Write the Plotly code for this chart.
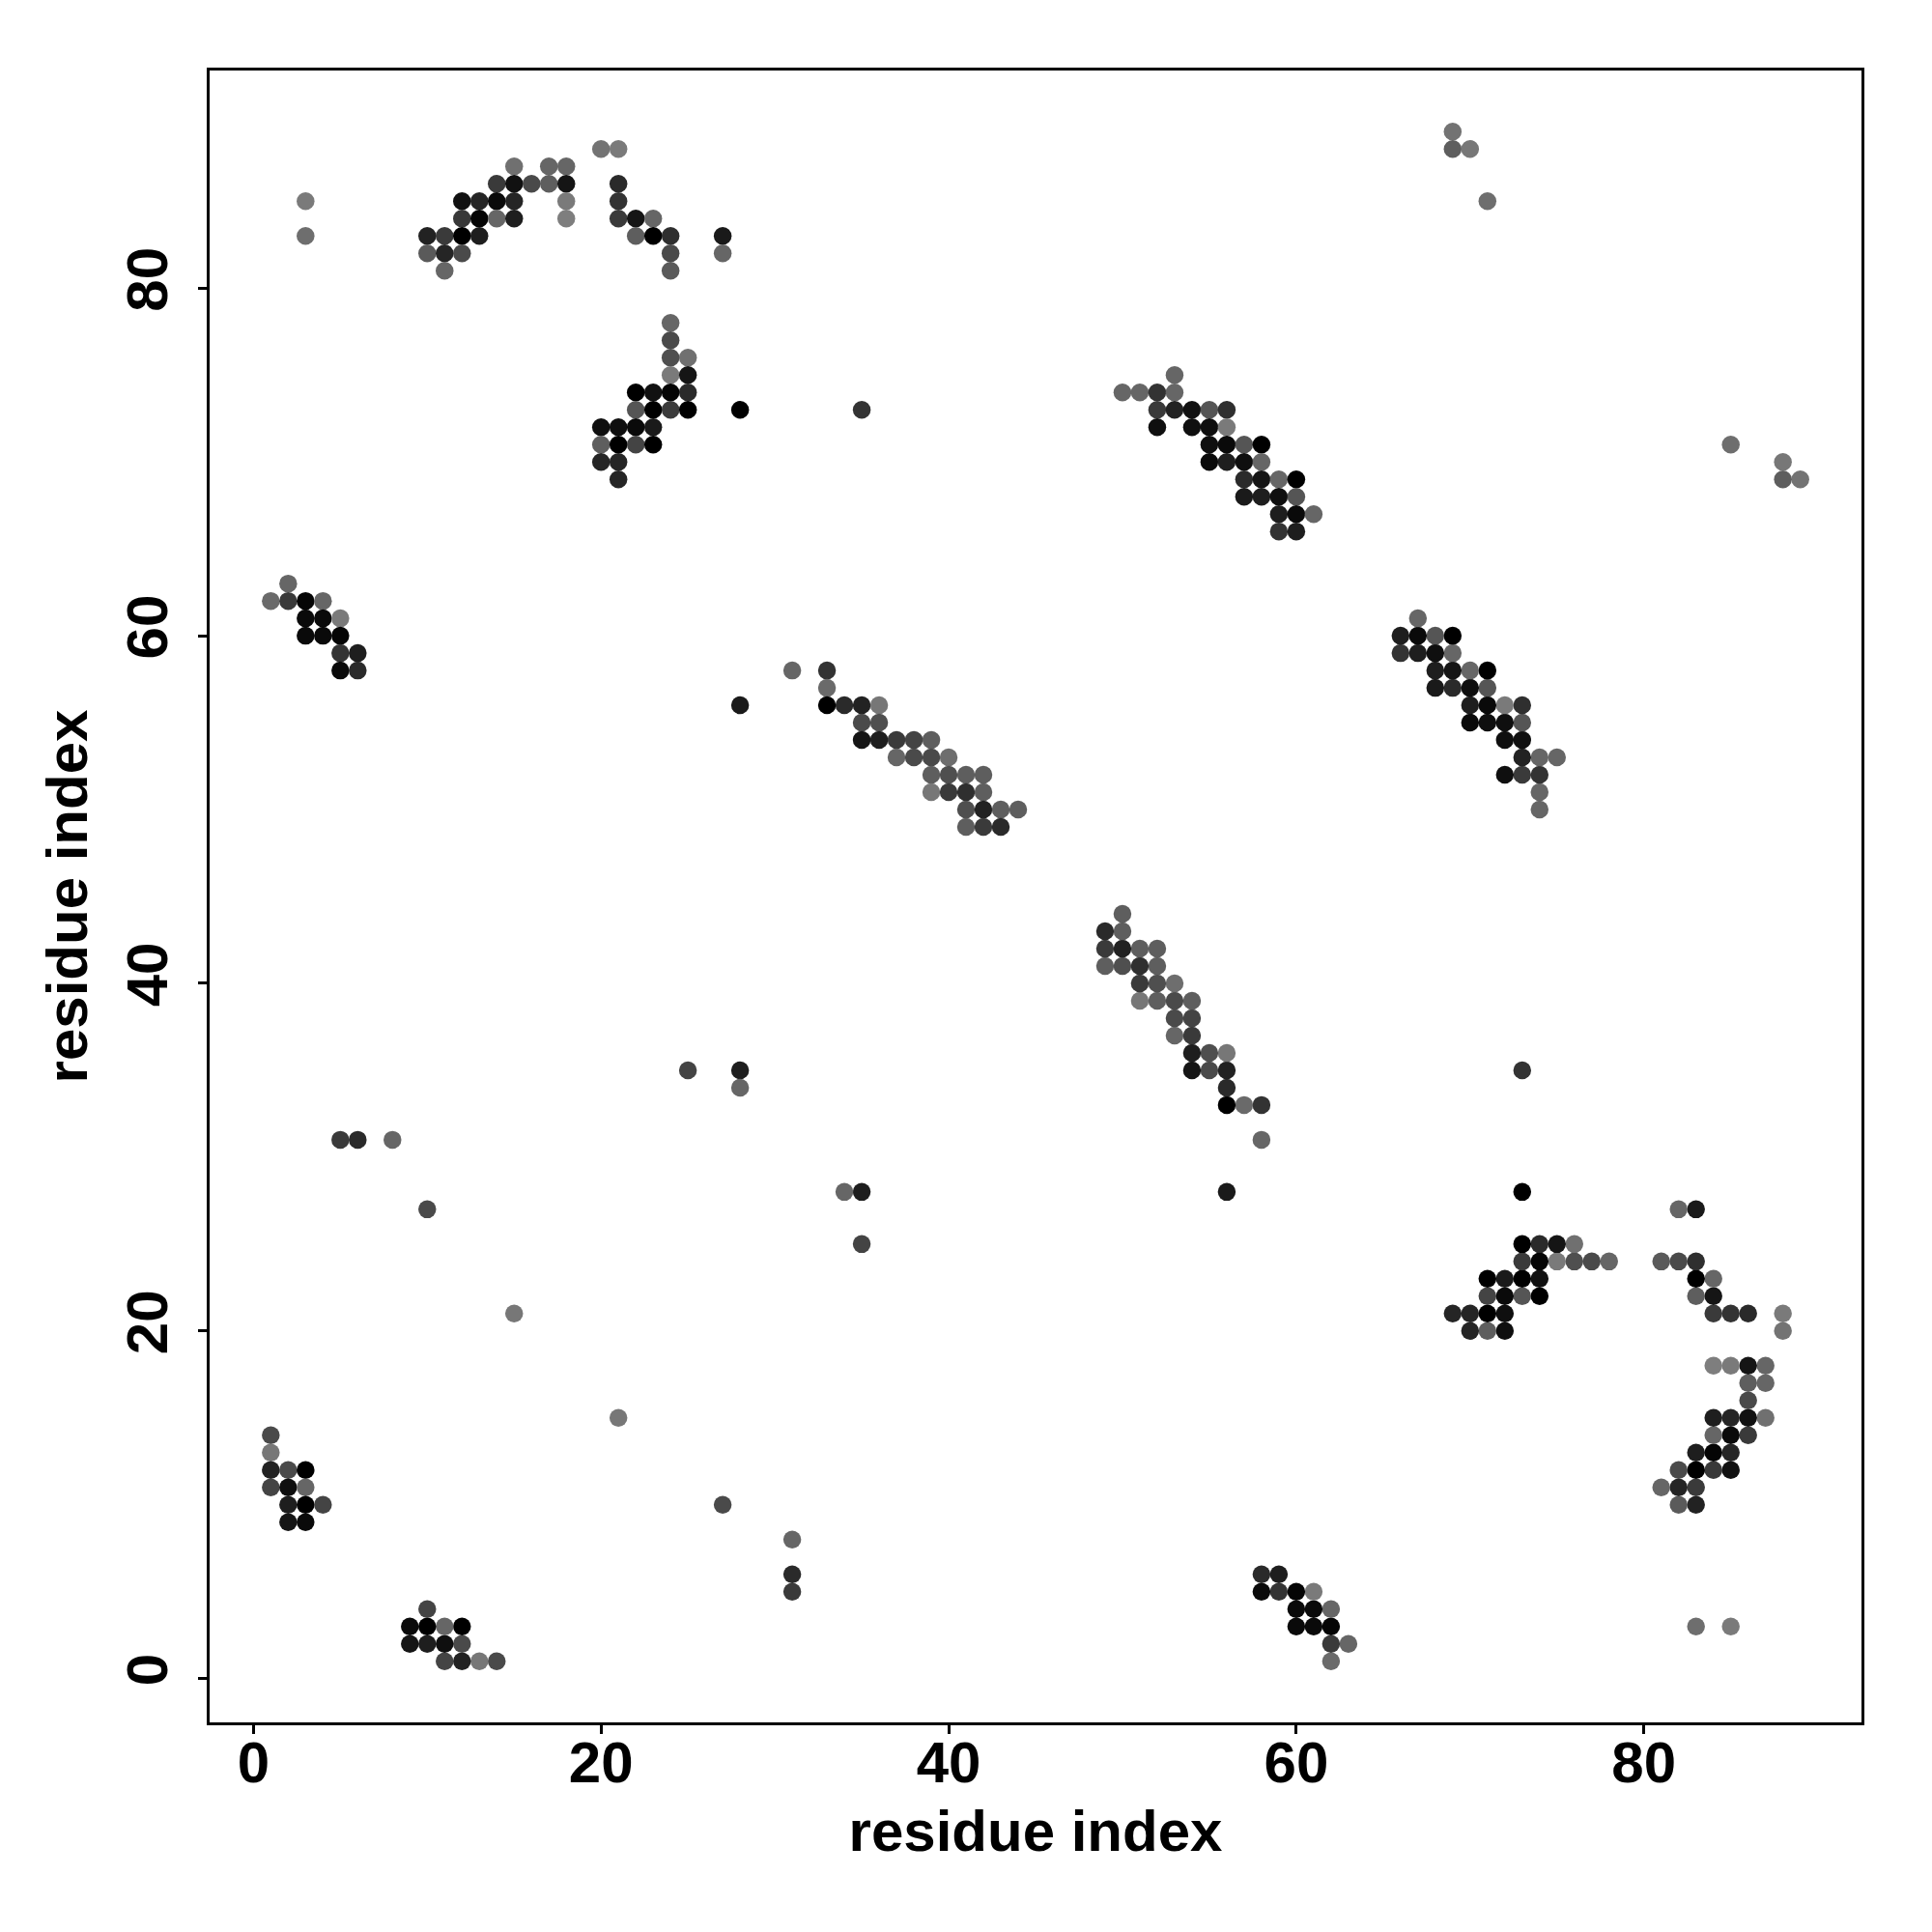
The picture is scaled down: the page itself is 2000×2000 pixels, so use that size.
import plotly.graph_objects as go

# Contact pairs (upper triangle: res_i < res_j) and their gray level (0 = black)
res_i = [
    1, 1, 1, 2, 3, 1, 2, 3, 2, 3, 4, 2, 3,
    2, 1, 2, 3, 4, 3, 4, 5, 3, 4, 5, 5, 6, 5, 6,
    3, 3,
    15, 14, 15, 16, 17, 18, 17, 18,
    12, 13, 14, 15, 18,
    12, 13, 14, 15, 18,
    10, 11, 12, 13,
    10, 11, 12,
    11,
    20, 21,
    21, 21, 21, 22, 23,
    22, 23, 24, 24, 24,
    27, 27,
    24, 24, 24, 25, 24, 25,
    22, 23, 24, 25,
    22, 23, 24, 25,
    20, 21, 22, 23,
    20, 21, 22, 23,
    20, 21, 21,
    28, 35,
    53, 50, 51, 52, 53,
    52, 53, 54, 55, 56,
    52, 54, 55, 56,
    55, 56, 57, 58,
    55, 56, 57, 58,
    57, 58, 59, 60,
    57, 58, 59, 60,
    59, 60, 61,
    59, 60,
    31, 33, 33,
    33, 34, 35, 36,
    35, 36,
    35, 36, 37, 38, 39,
    37, 38, 39, 40,
    39, 40, 41, 42,
    39, 40, 41, 42,
    41, 42, 43, 44,
    41, 42, 43,
    28,
    5, 6, 8, 10, 15, 25, 28, 28,
    69, 69, 70, 71,
]
res_j = [
    14, 13, 12, 12, 12, 11, 11, 11, 10, 10, 10, 9, 9,
    63, 62, 62, 62, 62, 61, 61, 61, 60, 60, 60, 59, 59, 58, 58,
    85, 83,
    87, 86, 86, 86, 87, 87, 86, 86,
    85, 85, 85, 85, 85,
    84, 84, 84, 84, 84,
    83, 83, 83, 83,
    82, 82, 82,
    81,
    88, 88,
    86, 85, 84, 84, 84,
    83, 83, 83, 82, 81,
    83, 82,
    78, 77, 76, 76, 75, 75,
    74, 74, 74, 74,
    73, 73, 73, 73,
    72, 72, 72, 72,
    71, 71, 71, 71,
    70, 70, 69,
    73, 73,
    75, 74, 74, 74, 74,
    73, 73, 73, 73, 73,
    72, 72, 72, 72,
    71, 71, 71, 71,
    70, 70, 70, 70,
    69, 69, 69, 69,
    68, 68, 68, 68,
    67, 67, 67,
    66, 66,
    58, 58, 57,
    56, 56, 56, 56,
    55, 55,
    54, 54, 54, 54, 54,
    53, 53, 53, 53,
    52, 52, 52, 52,
    51, 51, 51, 51,
    50, 50, 50, 50,
    49, 49, 49,
    56,
    31, 31, 31, 27, 21, 35, 35, 34,
    89, 88, 88, 85,
]
gray = [
    74, 119, 34, 74, 0, 68, 15, 102, 30, 0, 68, 21, 10,
    102, 106, 58, 5, 102, 10, 10, 122, 10, 10, 5, 51, 30, 10, 42,
    122, 110,
    112, 58, 17, 74, 102, 102, 94, 21,
    17, 37, 10, 37, 122,
    56, 5, 102, 30, 126,
    34, 58, 0, 30,
    90, 37, 74,
    102,
    115, 122,
    42, 51, 58, 21, 102,
    94, 0, 47, 74, 90,
    26, 102,
    102, 74, 79, 112, 122, 21,
    0, 17, 5, 42,
    85, 0, 58, 0,
    15, 15, 10, 26,
    94, 0, 68, 0,
    37, 37, 37,
    0, 51,
    102, 102, 102, 51, 102,
    58, 34, 17, 85, 47,
    15, 15, 15, 122,
    15, 10, 85, 0,
    10, 30, 15, 102,
    42, 21, 102, 0,
    26, 30, 15, 85,
    30, 10, 102,
    51, 30,
    102, 51, 106,
    0, 42, 34, 119,
    74, 79,
    21, 30, 58, 68, 94,
    102, 74, 74, 110,
    94, 79, 94, 94,
    119, 58, 47, 94,
    79, 34, 94, 94,
    94, 58, 42,
    26,
    58, 42, 102, 74, 119, 68, 30, 102,
    115, 94, 119, 110,
]

tick_vals = [0, 20, 40, 60, 80]
axis_title = "residue index"

# symmetric contact map: draw (i, j) and (j, i)
xs = res_i + res_j
ys = res_j + res_i
cols = [f"rgb({g},{g},{g})" for g in gray + gray]

fig = go.Figure()
fig.add_trace(go.Scatter(
    x=xs, y=ys, mode="markers",
    marker=dict(size=18.5, color=cols, line=dict(width=0)),
    showlegend=False, hoverinfo="x+y",
))

font_bold = dict(family="Liberation Sans, Arial, sans-serif", size=60, color="black", weight="bold")

fig.update_layout(
    width=2000, height=2000,
    paper_bgcolor="white", plot_bgcolor="white",
    margin=dict(l=209, r=81, t=65, b=225),
    showlegend=False,
)
fig.update_xaxes(
    range=[-2.52, 92.52], tickvals=tick_vals, ticktext=[str(v) for v in tick_vals],
    showgrid=False, zeroline=False,
    showline=True, linecolor="black", linewidth=2.8, mirror=True,
    ticks="outside", ticklen=9, tickwidth=2.5, tickcolor="black",
    tickfont=font_bold, ticklabelstandoff=-22,
    title=dict(text=axis_title, font=font_bold, standoff=18),
)
fig.update_yaxes(
    range=[-2.52, 92.52], tickvals=tick_vals, ticktext=[str(v) for v in tick_vals],
    showgrid=False, zeroline=False,
    showline=True, linecolor="black", linewidth=2.8, mirror=True,
    ticks="outside", ticklen=9, tickwidth=2.5, tickcolor="black",
    tickangle=-90, ticklabelstandoff=8,
    tickfont=font_bold,
    title=dict(text=axis_title, font=font_bold, standoff=10),
)

fig.write_html("out.html")
